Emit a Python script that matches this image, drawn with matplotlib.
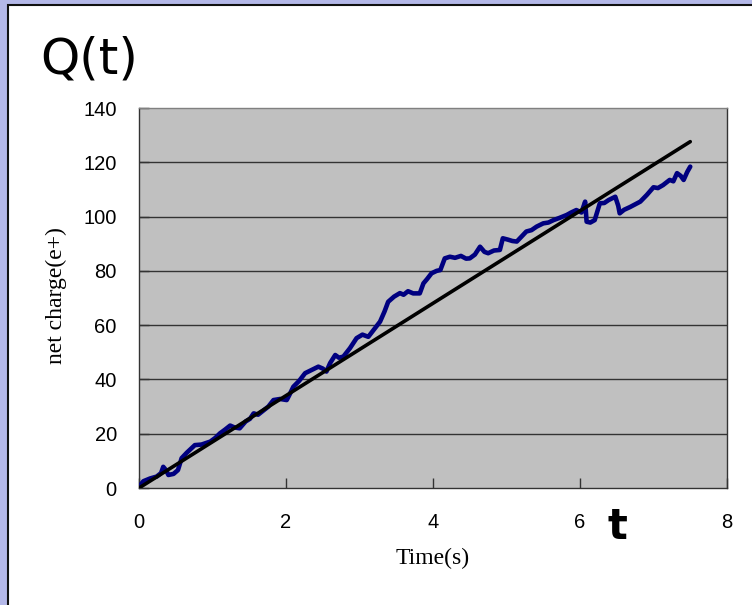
import matplotlib
matplotlib.use("Agg")
import matplotlib.pyplot as plt
from matplotlib.patches import Rectangle

# ---- data ----
time_s = [0, 0.06, 0.15, 0.24, 0.30, 0.33, 0.37, 0.40, 0.47, 0.53, 0.58, 0.65, 0.76, 0.85, 0.97,
          1.04, 1.10, 1.17, 1.24, 1.30, 1.37, 1.45, 1.51, 1.56, 1.62, 1.69, 1.76, 1.83, 1.92, 2.01,
          2.05, 2.10, 2.18, 2.26, 2.35, 2.44, 2.50, 2.55, 2.60, 2.67, 2.72, 2.78, 2.87, 2.96, 3.04,
          3.12, 3.20, 3.28, 3.34, 3.39, 3.47, 3.55, 3.60, 3.66, 3.73, 3.82, 3.87, 3.92, 3.98, 4.05,
          4.10, 4.16, 4.23, 4.30, 4.38, 4.45, 4.50, 4.57, 4.64, 4.70, 4.75, 4.83, 4.91, 4.95, 5.02,
          5.08, 5.14, 5.20, 5.27, 5.34, 5.41, 5.50, 5.57, 5.64, 5.72, 5.82, 5.88, 5.95, 6.02, 6.07,
          6.09, 6.14, 6.20, 6.27, 6.33, 6.39, 6.48, 6.52, 6.54, 6.60, 6.68, 6.75, 6.82, 6.91, 7.00,
          7.06, 7.13, 7.22, 7.27, 7.32, 7.37, 7.41, 7.46, 7.50]
net_charge = [0.5, 2.5, 3.5, 4.2, 5.5, 7.8, 6.5, 4.8, 5.2, 6.6, 11.0, 13.0, 15.8, 16.0, 17.1,
              18.5, 20.1, 21.5, 23.0, 22.3, 22.0, 24.5, 25.5, 27.5, 27.0, 28.5, 30.0, 32.4, 32.8, 32.4,
              34.5, 37.3, 39.5, 42.3, 43.5, 44.7, 44.0, 42.9, 46.0, 49.0, 48.0, 48.4, 51.5, 55.2, 56.5,
              55.7, 58.5, 61.3, 65.0, 68.6, 70.5, 71.8, 71.2, 72.5, 71.7, 71.7, 75.4, 77.0, 79.1, 80.0,
              80.3, 84.6, 85.2, 84.8, 85.5, 84.5, 84.6, 86.0, 88.9, 87.0, 86.5, 87.5, 87.7, 92.0, 91.5,
              91.0, 90.8, 92.5, 94.5, 95.0, 96.3, 97.5, 97.8, 98.7, 99.5, 100.6, 101.5, 102.4, 101.5, 105.5,
              98.1, 97.8, 98.7, 104.9, 105.0, 106.1, 107.3, 104.0, 101.2, 102.5, 103.5, 104.5, 105.5, 108.0, 110.8,
              110.5, 111.6, 113.5, 113.0, 116.0, 115.0, 113.5, 116.5, 118.4]
fit_t = [0.0, 7.5]
fit_q = [0.0, 127.6]
x_ticks = [0, 2, 4, 6, 8]
y_ticks = [0, 20, 40, 60, 80, 100, 120, 140]

W, H = 752, 605
fig = plt.figure(figsize=(W / 100, H / 100), dpi=100)
fig.patch.set_facecolor("#b4b8e8")
panel = Rectangle((8 / W, -0.1), 1.2, 1 - 5 / H + 0.1, transform=fig.transFigure,
                  facecolor="white", edgecolor="#111111", linewidth=1.5, zorder=-5)
fig.patches.append(panel)

ax = fig.add_axes([139 / W, 1 - 488 / H, (727 - 139) / W, (488 - 108) / H])
ax.set_zorder(2)
ax.set_facecolor("#c0c0c0")
ax.set_xlim(0, 8)
ax.set_ylim(0, 140)
ax.set_xticks(x_ticks)
ax.set_yticks(y_ticks)
ax.set_xticklabels([str(v) for v in x_ticks])
ax.set_yticklabels([str(v) for v in y_ticks])
for y in y_ticks[1:-1]:
    ax.axhline(y, color="#333333", linewidth=1.0, zorder=1)
ax.tick_params(axis="x", direction="in", length=7, width=1, pad=18, labelsize=14.5, color="#333333")
ax.tick_params(axis="y", direction="in", length=7, width=1, pad=16, labelsize=14.5, color="#333333")
for lab in ax.get_xticklabels() + ax.get_yticklabels():
    lab.set_fontfamily("Liberation Sans")
for s in ax.spines.values():
    s.set_color("#333333")
    s.set_linewidth(1.0)
ax.spines["top"].set_color("#808080")

ax.plot(time_s, net_charge, color="#000080", linewidth=3.3, zorder=3,
        solid_joinstyle="round", solid_capstyle="round")
ax.plot(fit_t, fit_q, color="black", linewidth=2.6, zorder=4, solid_capstyle="round")

fig.text(40 / W, 1 - 73 / H, "Q(t)", fontsize=36, family="DejaVu Sans", ha="left", va="baseline")
fig.text(617 / W, 1 - 527 / H, "t", fontsize=30, fontweight="bold", family="DejaVu Sans",
         ha="center", va="center")
fig.text(433 / W, 1 - 558 / H, "Time(s)", fontsize=17, family="Liberation Serif",
         ha="center", va="center")
fig.text(56 / W, 1 - 296 / H, "net charge(e+)", fontsize=17, family="Liberation Serif",
         ha="center", va="center", rotation=90)

fig.savefig("out.png", dpi=100, facecolor=fig.get_facecolor())
